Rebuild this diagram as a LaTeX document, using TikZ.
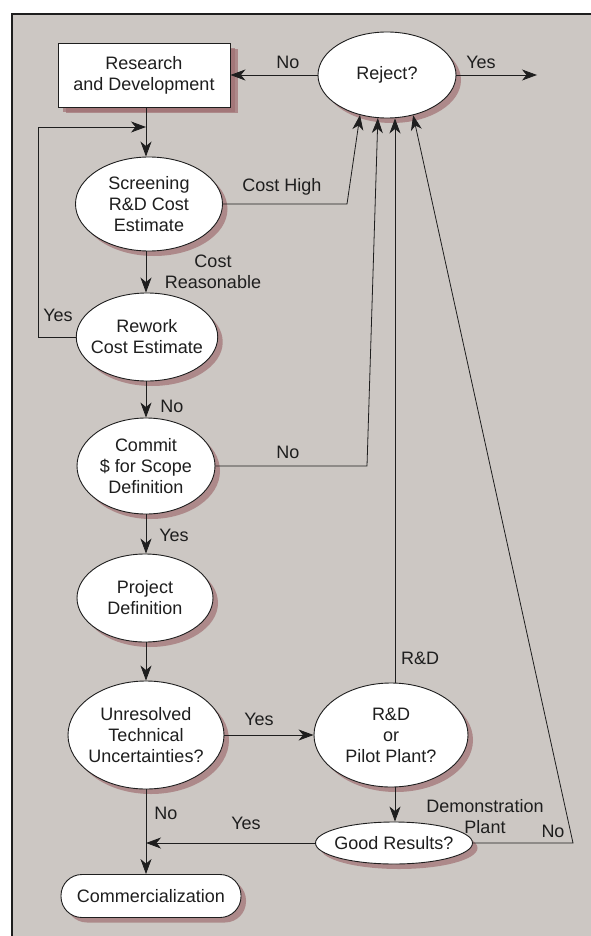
\documentclass[tikz,border=0pt]{standalone}
\usepackage{fontspec}
\setmainfont{Liberation Sans}
\usetikzlibrary{shapes.geometric,arrows.meta,shadows}
\definecolor{panel}{RGB}{204,199,195}
\definecolor{ink}{RGB}{30,30,30}
\definecolor{shade}{RGB}{160,112,114}
\tikzset{
  txt/.style={font=\fontsize{18}{21}\selectfont, text=ink},
  shapebase/.style={txt, draw=ink, line width=0.9pt, fill=white, align=center, inner sep=0pt,
    drop shadow={shadow xshift=5pt, shadow yshift=-5pt, fill=shade, opacity=0.7}},
  oval/.style={shapebase, ellipse, inner xsep=-6pt},
  boxnode/.style={shapebase, rectangle,
    drop shadow={shadow xshift=8pt, shadow yshift=-6pt, fill=shade, opacity=0.7}},
  pill/.style={shapebase, rectangle, rounded corners=21pt},
  arr/.style={draw=ink, line width=0.8pt, -{Stealth[length=15pt,width=11pt,inset=4.5pt]}},
  lbl/.style={txt, anchor=base, inner sep=0pt},
  mlbl/.style={txt, align=center, inner sep=0pt},
}
\begin{document}
\begin{tikzpicture}[x=1pt,y=-1pt]
\useasboundingbox (0,0) rectangle (591,936);
\clip (0,0) rectangle (591,936);
\fill[white] (0,0) rectangle (591,936);
\fill[panel] (12,14) rectangle (620,960);
\draw[ink, line width=1.2pt] (620,14) -- (12,14) -- (12,960);

% nodes
\node[boxnode, minimum width=172pt, minimum height=64pt] (rd) at (144,75) {Research\\and Development};
\node[oval, minimum width=138pt, minimum height=86pt] (rej) at (387,75) {Reject?};
\node[oval, minimum width=147pt, minimum height=94pt] (scr) at (149,204) {Screening\\R\&D Cost\\Estimate};
\node[oval, minimum width=140pt, minimum height=88pt] (rw) at (147,337) {Rework\\Cost Estimate};
\node[oval, minimum width=138pt, minimum height=96pt] (cm) at (146,466) {Commit\\\$ for Scope\\Definition};
\node[oval, minimum width=136pt, minimum height=88pt] (pd) at (145,598) {Project\\Definition};
\node[oval, minimum width=156pt, minimum height=108pt] (ur) at (146,735) {Unresolved\\Technical\\Uncertainties?};
\node[oval, minimum width=154pt, minimum height=104pt] (rdp) at (391,735) {R\&D\\or\\Pilot Plant?};
\node[oval, minimum width=157pt, minimum height=42pt] (gd) at (394,843) {Good Results?};
\node[pill, minimum width=180pt, minimum height=43pt] (com) at (151,896) {Commercialization};

% helper coordinates
\coordinate (col) at (146,0);
\coordinate (col2) at (395,0);
\coordinate (loopc) at (38,127);
\coordinate (loopin) at (146,127);
\coordinate (yesend) at (537,75);
\coordinate (chk) at (347,204);
\coordinate (cmk) at (367,466);
\coordinate (gdk) at (573,843);

% connectors
\draw[arr] (rd.south -| col) -- (scr.north -| col);
\draw[arr] (scr.south -| col) -- (rw.north -| col);
\draw[arr] (rw.south -| col) -- (cm.north -| col);
\draw[arr] (cm.south -| col) -- (pd.north -| col);
\draw[arr] (pd.south -| col) -- (ur.north -| col);
\draw[arr] (ur.south -| col) -- (com.north -| col);
\draw[arr] (rw.west) -| (loopc) -- (loopin);
\draw[arr] (rej.west) -- (rd.east);
\draw[arr] (rej.east) -- (yesend);
\draw[arr] (scr.east) -- (chk) -- (rej.236);
\draw[arr] (cm.east) -- (cmk) -- (rej.258);
\draw[arr] (rdp.north -| col2) -- (col2 |- rej.south);
\draw[arr] (rdp.south -| col2) -- (gd.north -| col2);
\draw[arr] (ur.east) -- (rdp.west);
\draw[arr] (gd.west) -- (gd.west -| col);
\draw[arr] (gd.east) -- (gdk) -- (rej.303);

% labels
\node[lbl] (l1) at (288,69) {No};
\node[lbl] (l2) at (481,69) {Yes};
\node[lbl] (l3) at (282,191) {Cost High};
\node[mlbl] (l4) at (213,272) {Cost\\Reasonable};
\node[lbl] (l5) at (58,321) {Yes};
\node[lbl] (l6) at (172,412) {No};
\node[lbl] (l7) at (288,458) {No};
\node[lbl] (l8) at (174,541) {Yes};
\node[lbl] (l9) at (259,725) {Yes};
\node[lbl] (l10) at (420,664) {R\&D};
\node[mlbl] (l11) at (485,817) {Demonstration\\Plant};
\node[lbl] (l12) at (553,837) {No};
\node[lbl] (l13) at (246,829) {Yes};
\node[lbl] (l14) at (166,819) {No};
\end{tikzpicture}
\end{document}
